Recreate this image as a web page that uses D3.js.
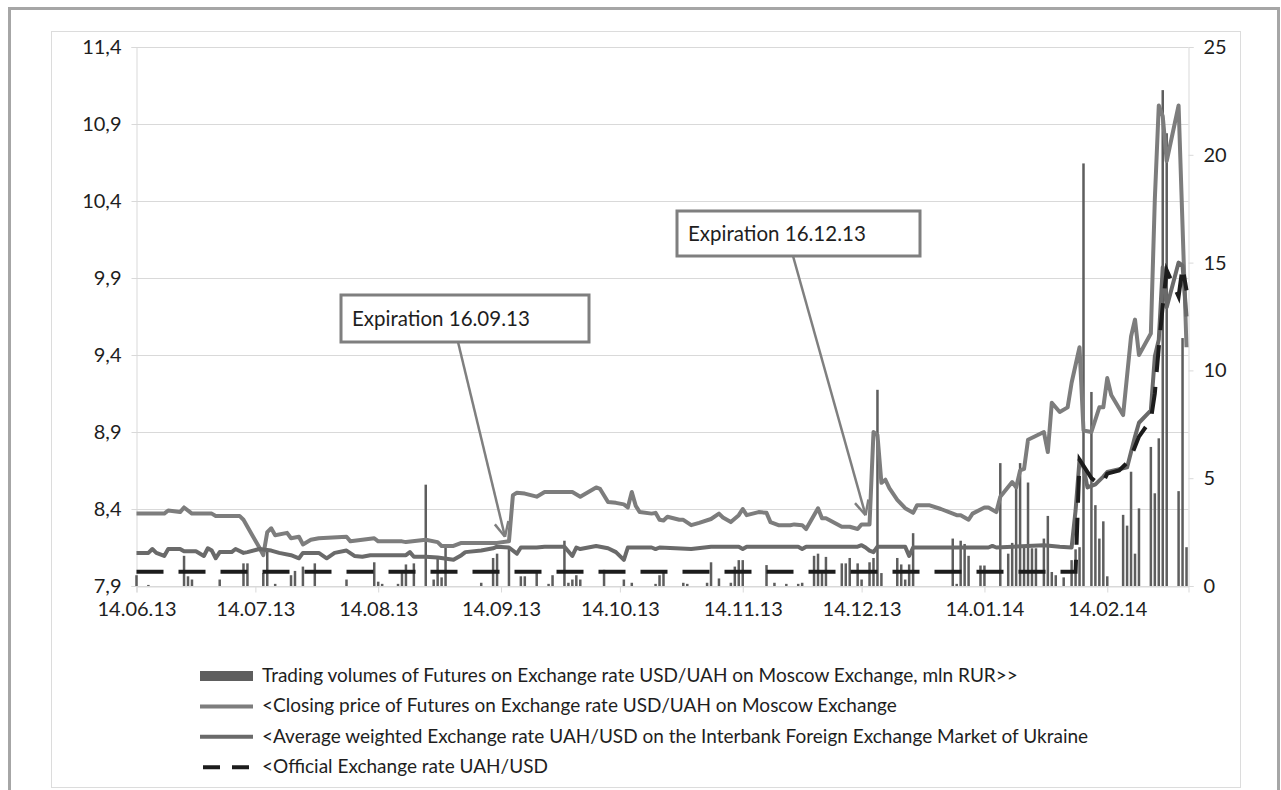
<!DOCTYPE html>
<html>
<head>
<meta charset="utf-8">
<script src="https://cdn.jsdelivr.net/npm/d3@7"></script>
<style>
  body { margin: 0; background: #fff; }
  svg text { font-family: Lato, "Open Sans", sans-serif; fill: #1e1e1e; }
</style>
</head>
<body>
<div id="chart"></div>
<script>
// tick labels
var xTickLabels = ["14.06.13", "14.07.13", "14.08.13", "14.09.13", "14.10.13",
                   "14.11.13", "14.12.13", "14.01.14", "14.02.14"];
var leftTicks = [7.9, 8.4, 8.9, 9.4, 9.9, 10.4, 10.9, 11.4];
var rightTicks = [0, 5, 10, 15, 20, 25];

var seriesNames = [
  "Trading volumes of Futures on Exchange rate USD/UAH on Moscow Exchange, mln RUR>>",
  "<Closing price of Futures on Exchange rate USD/UAH on Moscow Exchange",
  "<Average weighted Exchange rate UAH/USD on the Interbank Foreign Exchange Market of Ukraine",
  "<Official Exchange rate UAH/USD"
];

var notes = [
  { text: "Expiration 16.09.13", date: "2013-09-15", value: 8.22 },
  { text: "Expiration 16.12.13", date: "2013-12-15", value: 8.36 }
];

// trading volumes, mln RUR (right axis)
var volumes = [
  ["2013-06-14", 0.5], ["2013-06-17", 0.05], ["2013-06-26", 1.4], ["2013-06-27", 0.45],
  ["2013-06-28", 0.3], ["2013-07-05", 0.3], ["2013-07-11", 1.05], ["2013-07-12", 1.05],
  ["2013-07-16", 0.6], ["2013-07-17", 1.6], ["2013-07-19", 0.1], ["2013-07-23", 0.5],
  ["2013-07-24", 0.7], ["2013-07-26", 0.9], ["2013-07-29", 1.05], ["2013-08-06", 0.3],
  ["2013-08-13", 1.1], ["2013-08-14", 0.2], ["2013-08-15", 0.1], ["2013-08-19", 0.1],
  ["2013-08-20", 0.6], ["2013-08-21", 1.0], ["2013-08-23", 1.05], ["2013-08-26", 4.7],
  ["2013-08-28", 0.3], ["2013-08-29", 1.35], ["2013-08-30", 0.4], ["2013-08-31", 1.9],
  ["2013-09-09", 0.15], ["2013-09-12", 1.3], ["2013-09-13", 1.5], ["2013-09-16", 1.8],
  ["2013-09-19", 0.45], ["2013-09-20", 0.45], ["2013-09-23", 0.6], ["2013-09-26", 0.1],
  ["2013-09-27", 0.5], ["2013-09-30", 2.1], ["2013-10-01", 0.15], ["2013-10-02", 0.3],
  ["2013-10-03", 0.5], ["2013-10-04", 0.3], ["2013-10-10", 0.75], ["2013-10-15", 0.3],
  ["2013-10-17", 0.15], ["2013-10-23", 0.1], ["2013-10-24", 0.5], ["2013-10-25", 0.65],
  ["2013-10-30", 0.15], ["2013-10-31", 0.1], ["2013-11-05", 0.15], ["2013-11-06", 1.1],
  ["2013-11-08", 0.35], ["2013-11-11", 0.15], ["2013-11-12", 0.9], ["2013-11-13", 1.2],
  ["2013-11-14", 1.2], ["2013-11-20", 0.97], ["2013-11-22", 0.15], ["2013-11-25", 0.1],
  ["2013-11-28", 0.1], ["2013-11-29", 0.15], ["2013-12-02", 1.4], ["2013-12-03", 1.5],
  ["2013-12-04", 0.6], ["2013-12-05", 1.35], ["2013-12-09", 1.05], ["2013-12-10", 1.05],
  ["2013-12-11", 1.3], ["2013-12-13", 1.05], ["2013-12-14", 0.3], ["2013-12-16", 1.1],
  ["2013-12-17", 1.3], ["2013-12-18", 9.1], ["2013-12-19", 0.6], ["2013-12-23", 1.3],
  ["2013-12-24", 1.0], ["2013-12-25", 0.3], ["2013-12-26", 1.0], ["2013-12-27", 2.45],
  ["2014-01-06", 2.2], ["2014-01-07", 0.1], ["2014-01-08", 2.1], ["2014-01-09", 1.95],
  ["2014-01-10", 1.4], ["2014-01-13", 0.95], ["2014-01-14", 0.95], ["2014-01-18", 5.7],
  ["2014-01-20", 1.5], ["2014-01-21", 2.0], ["2014-01-22", 4.6], ["2014-01-23", 5.7],
  ["2014-01-24", 1.9], ["2014-01-25", 4.8], ["2014-01-26", 1.75], ["2014-01-27", 1.75],
  ["2014-01-29", 2.2], ["2014-01-30", 3.25], ["2014-01-31", 0.65], ["2014-02-01", 0.5],
  ["2014-02-03", 0.4], ["2014-02-05", 1.2], ["2014-02-06", 1.7], ["2014-02-07", 1.8],
  ["2014-02-08", 19.6], ["2014-02-10", 9.0], ["2014-02-11", 3.75], ["2014-02-12", 2.2],
  ["2014-02-13", 3.0], ["2014-02-14", 0.45], ["2014-02-18", 3.3], ["2014-02-19", 2.8],
  ["2014-02-20", 5.3], ["2014-02-21", 1.5], ["2014-02-22", 3.6], ["2014-02-25", 6.45],
  ["2014-02-26", 4.3], ["2014-02-27", 6.85], ["2014-02-28", 23.0], ["2014-03-01", 21.0],
  ["2014-03-04", 4.4], ["2014-03-05", 11.5], ["2014-03-06", 1.8]
];

// closing price of futures (left axis)
var closingPrice = [
  ["2013-06-14", 8.37], ["2013-06-21", 8.37], ["2013-06-22", 8.39], ["2013-06-25", 8.38],
  ["2013-06-26", 8.41], ["2013-06-28", 8.37], ["2013-07-03", 8.37], ["2013-07-04", 8.355],
  ["2013-07-10", 8.355], ["2013-07-11", 8.33], ["2013-07-13", 8.24], ["2013-07-15", 8.15],
  ["2013-07-16", 8.10], ["2013-07-17", 8.25], ["2013-07-18", 8.275], ["2013-07-19", 8.23],
  ["2013-07-22", 8.245], ["2013-07-23", 8.21], ["2013-07-25", 8.22], ["2013-07-26", 8.17],
  ["2013-07-28", 8.20], ["2013-07-30", 8.21], ["2013-08-06", 8.22], ["2013-08-07", 8.19],
  ["2013-08-13", 8.21], ["2013-08-14", 8.19], ["2013-08-20", 8.19], ["2013-08-21", 8.185],
  ["2013-08-26", 8.20], ["2013-08-29", 8.185], ["2013-08-30", 8.16], ["2013-09-02", 8.16],
  ["2013-09-04", 8.18], ["2013-09-13", 8.18], ["2013-09-16", 8.19], ["2013-09-17", 8.49],
  ["2013-09-18", 8.505], ["2013-09-20", 8.50], ["2013-09-23", 8.48], ["2013-09-25", 8.51],
  ["2013-10-02", 8.51], ["2013-10-04", 8.48], ["2013-10-08", 8.54], ["2013-10-09", 8.53],
  ["2013-10-11", 8.445], ["2013-10-13", 8.44], ["2013-10-15", 8.43], ["2013-10-16", 8.41],
  ["2013-10-17", 8.51], ["2013-10-18", 8.42], ["2013-10-19", 8.38], ["2013-10-22", 8.37],
  ["2013-10-23", 8.375], ["2013-10-24", 8.33], ["2013-10-25", 8.325], ["2013-10-26", 8.35],
  ["2013-10-29", 8.33], ["2013-10-30", 8.33], ["2013-11-01", 8.295], ["2013-11-03", 8.31],
  ["2013-11-06", 8.335], ["2013-11-08", 8.37], ["2013-11-09", 8.345], ["2013-11-11", 8.315],
  ["2013-11-13", 8.36], ["2013-11-14", 8.40], ["2013-11-15", 8.36], ["2013-11-18", 8.38],
  ["2013-11-20", 8.375], ["2013-11-21", 8.315], ["2013-11-23", 8.295], ["2013-11-26", 8.295],
  ["2013-11-27", 8.30], ["2013-11-29", 8.295], ["2013-11-30", 8.27], ["2013-12-03", 8.405],
  ["2013-12-04", 8.34], ["2013-12-05", 8.34], ["2013-12-09", 8.285], ["2013-12-11", 8.285],
  ["2013-12-13", 8.27], ["2013-12-14", 8.30], ["2013-12-16", 8.30], ["2013-12-17", 8.90],
  ["2013-12-18", 8.88], ["2013-12-19", 8.57], ["2013-12-20", 8.59], ["2013-12-21", 8.535],
  ["2013-12-23", 8.46], ["2013-12-25", 8.405], ["2013-12-27", 8.375], ["2013-12-28", 8.425],
  ["2013-12-31", 8.425], ["2014-01-03", 8.40], ["2014-01-07", 8.36], ["2014-01-08", 8.36],
  ["2014-01-10", 8.33], ["2014-01-11", 8.37], ["2014-01-14", 8.41], ["2014-01-15", 8.41],
  ["2014-01-17", 8.38], ["2014-01-18", 8.48], ["2014-01-21", 8.575], ["2014-01-22", 8.54],
  ["2014-01-23", 8.65], ["2014-01-24", 8.66], ["2014-01-25", 8.85], ["2014-01-29", 8.90],
  ["2014-01-30", 8.77], ["2014-01-31", 9.09], ["2014-02-02", 9.03], ["2014-02-04", 9.06],
  ["2014-02-05", 9.22], ["2014-02-07", 9.45], ["2014-02-08", 8.91], ["2014-02-10", 8.90],
  ["2014-02-12", 9.06], ["2014-02-13", 9.06], ["2014-02-14", 9.25], ["2014-02-15", 9.14],
  ["2014-02-18", 9.01], ["2014-02-20", 9.52], ["2014-02-21", 9.63], ["2014-02-22", 9.40],
  ["2014-02-25", 9.54], ["2014-02-26", 10.41], ["2014-02-27", 11.02], ["2014-02-28", 10.95],
  ["2014-03-01", 10.66], ["2014-03-04", 11.02], ["2014-03-06", 9.45]
];

// average weighted interbank rate (left axis)
var averageRate = [
  ["2013-06-14", 8.115], ["2013-06-17", 8.115], ["2013-06-18", 8.14], ["2013-06-19", 8.115],
  ["2013-06-21", 8.095], ["2013-06-22", 8.14], ["2013-06-25", 8.14], ["2013-06-26", 8.125],
  ["2013-06-29", 8.125], ["2013-07-01", 8.095], ["2013-07-02", 8.145], ["2013-07-03", 8.13],
  ["2013-07-04", 8.08], ["2013-07-05", 8.12], ["2013-07-08", 8.12], ["2013-07-09", 8.14],
  ["2013-07-11", 8.115], ["2013-07-12", 8.12], ["2013-07-15", 8.14], ["2013-07-18", 8.13],
  ["2013-07-20", 8.115], ["2013-07-23", 8.10], ["2013-07-25", 8.08], ["2013-07-26", 8.115],
  ["2013-07-30", 8.115], ["2013-08-01", 8.08], ["2013-08-03", 8.115], ["2013-08-06", 8.13],
  ["2013-08-08", 8.095], ["2013-08-10", 8.09], ["2013-08-12", 8.10], ["2013-08-21", 8.10],
  ["2013-08-22", 8.12], ["2013-08-23", 8.09], ["2013-08-26", 8.09], ["2013-08-29", 8.085],
  ["2013-09-02", 8.07], ["2013-09-04", 8.10], ["2013-09-05", 8.12], ["2013-09-09", 8.13],
  ["2013-09-12", 8.145], ["2013-09-13", 8.155], ["2013-09-16", 8.15], ["2013-09-18", 8.11],
  ["2013-09-19", 8.15], ["2013-09-23", 8.15], ["2013-09-25", 8.155], ["2013-09-30", 8.155],
  ["2013-10-02", 8.095], ["2013-10-03", 8.15], ["2013-10-04", 8.14], ["2013-10-08", 8.16],
  ["2013-10-11", 8.145], ["2013-10-13", 8.12], ["2013-10-15", 8.07], ["2013-10-16", 8.15],
  ["2013-10-22", 8.15], ["2013-10-23", 8.14], ["2013-10-24", 8.15], ["2013-11-01", 8.14],
  ["2013-11-06", 8.155], ["2013-11-13", 8.155], ["2013-11-14", 8.14], ["2013-11-15", 8.155],
  ["2013-11-28", 8.155], ["2013-11-29", 8.14], ["2013-11-30", 8.155], ["2013-12-13", 8.155],
  ["2013-12-14", 8.165], ["2013-12-15", 8.15], ["2013-12-16", 8.13], ["2013-12-17", 8.12],
  ["2013-12-18", 8.155], ["2013-12-25", 8.155], ["2013-12-26", 8.095], ["2013-12-27", 8.15],
  ["2014-01-15", 8.15], ["2014-01-16", 8.16], ["2014-01-17", 8.15], ["2014-01-29", 8.165],
  ["2014-02-02", 8.155], ["2014-02-05", 8.15], ["2014-02-06", 8.39], ["2014-02-07", 8.72],
  ["2014-02-08", 8.67], ["2014-02-09", 8.54], ["2014-02-11", 8.56], ["2014-02-13", 8.61],
  ["2014-02-14", 8.64], ["2014-02-19", 8.67], ["2014-02-21", 8.87], ["2014-02-22", 8.96],
  ["2014-02-25", 9.04], ["2014-02-26", 9.39], ["2014-02-27", 9.50], ["2014-02-28", 9.97],
  ["2014-03-01", 9.71], ["2014-03-04", 10.0], ["2014-03-05", 9.98], ["2014-03-06", 9.65]
];

// official NBU rate (left axis)
var officialRate = [
  ["2013-06-14", 7.993], ["2014-02-06", 7.993], ["2014-02-07", 8.72], ["2014-02-10", 8.60],
  ["2014-02-12", 8.56], ["2014-02-13", 8.575], ["2014-02-14", 8.63], ["2014-02-17", 8.65],
  ["2014-02-19", 8.70], ["2014-02-20", 8.74], ["2014-02-22", 8.87], ["2014-02-25", 8.98],
  ["2014-02-26", 9.15], ["2014-02-27", 9.45], ["2014-02-28", 9.72], ["2014-03-01", 9.95],
  ["2014-03-04", 9.78], ["2014-03-05", 9.97], ["2014-03-06", 9.82]
];

var width = 1281, height = 790;
var plot = {left: 136.5, right: 1188.5, top: 47, bottom: 586};

var parseDay = d3.timeParse("%Y-%m-%d");
var parseTick = d3.timeParse("%d.%m.%y");
var comma = d3.formatLocale({decimal: ",", thousands: " ", grouping: [3], currency: ["", ""]});

var svg = d3.select("#chart").append("svg")
    .attr("width", width)
    .attr("height", height);

// frames
svg.append("rect")
    .attr("x", 9.5).attr("y", 8.5)
    .attr("width", 1269).attr("height", 800)
    .attr("fill", "none").attr("stroke", "#a6a6a6").attr("stroke-width", 3);
svg.append("rect")
    .attr("x", 51.5).attr("y", 31.5)
    .attr("width", 1189).attr("height", 756)
    .attr("fill", "none").attr("stroke", "#dcdcdc").attr("stroke-width", 1);

// scales
var x = d3.scaleTime()
    .domain([parseDay("2013-06-14"), new Date(2014, 2, 6, 12)])
    .range([plot.left, plot.right]);
var y = d3.scaleLinear()
    .domain([7.9, 11.4])
    .range([plot.bottom, plot.top]);
var y2 = d3.scaleLinear()
    .domain([0, 25])
    .range([plot.bottom, plot.top]);

// gridlines
svg.append("g")
    .selectAll("line")
    .data(leftTicks)
  .enter().append("line")
    .attr("x1", plot.left - 5).attr("x2", plot.right)
    .attr("y1", function(d) { return Math.round(y(d)) + 0.5; })
    .attr("y2", function(d) { return Math.round(y(d)) + 0.5; })
    .attr("stroke", "#d9d9d9");

// axes
function styleAxis(g) {
  g.select(".domain").attr("stroke", "#d9d9d9");
  g.selectAll(".tick line").attr("stroke", "#d9d9d9");
  g.selectAll(".tick text").attr("font-size", "20px").attr("fill", "#1e1e1e");
}

svg.append("g")
    .attr("transform", "translate(" + plot.left + ",0)")
    .call(d3.axisLeft(y).tickValues(leftTicks).tickSize(5).tickPadding(10)
      .tickFormat(comma.format(".1f")))
    .call(styleAxis)
    .call(function(g) { g.selectAll(".tick line").remove(); });

svg.append("g")
    .attr("transform", "translate(" + plot.right + ",0)")
    .call(d3.axisRight(y2).tickValues(rightTicks).tickSize(5).tickPadding(10))
    .call(styleAxis)
    .call(function(g) { g.selectAll(".tick text").attr("text-anchor", "start"); });

svg.append("g")
    .attr("transform", "translate(0," + (plot.bottom + 0.5) + ")")
    .call(d3.axisBottom(x).tickValues(xTickLabels.map(parseTick)).tickSize(6).tickPadding(9)
      .tickFormat(d3.timeFormat("%d.%m.%y")))
    .call(styleAxis);

// volume bars
svg.append("g")
    .selectAll("rect")
    .data(volumes)
  .enter().append("rect")
    .attr("x", function(d) { return x(parseDay(d[0])) - 1.25; })
    .attr("width", 2.5)
    .attr("y", function(d) { return y2(d[1]); })
    .attr("height", function(d) { return y2(0) - y2(d[1]); })
    .attr("fill", "#5e5e5e");

var line = d3.line()
    .x(function(d) { return x(parseDay(d[0])); })
    .y(function(d) { return y(d[1]); });

svg.append("path")
    .datum(closingPrice)
    .attr("d", line)
    .attr("fill", "none")
    .attr("stroke", "#7d7d7d")
    .attr("stroke-width", 4)
    .attr("stroke-linejoin", "round");

svg.append("path")
    .datum(averageRate)
    .attr("d", line)
    .attr("fill", "none")
    .attr("stroke", "#6a6a6a")
    .attr("stroke-width", 4)
    .attr("stroke-linejoin", "round");

svg.append("path")
    .datum(officialRate)
    .attr("d", line)
    .attr("fill", "none")
    .attr("stroke", "#1c1c1c")
    .attr("stroke-width", 4)
    .attr("stroke-dasharray", "27,15");

// callouts
var boxes = [
  {x: 341, y: 295, w: 248, h: 47, from: 458},
  {x: 677, y: 211, w: 243, h: 45, from: 793}
];
notes.forEach(function(n, i) {
  var b = boxes[i];
  var tx = x(parseDay(n.date)), ty = y(n.value);
  var sx = b.from, sy = b.y + b.h;
  svg.append("line")
      .attr("x1", sx).attr("y1", sy).attr("x2", tx).attr("y2", ty)
      .attr("stroke", "#7f7f7f").attr("stroke-width", 2.5);
  // open arrow head
  var ang = Math.atan2(ty - sy, tx - sx);
  [-0.45, 0.45].forEach(function(da) {
    svg.append("line")
        .attr("x1", tx).attr("y1", ty)
        .attr("x2", tx - 16 * Math.cos(ang + da))
        .attr("y2", ty - 16 * Math.sin(ang + da))
        .attr("stroke", "#7f7f7f").attr("stroke-width", 2.5);
  });
  svg.append("rect")
      .attr("x", b.x).attr("y", b.y).attr("width", b.w).attr("height", b.h)
      .attr("fill", "#fff").attr("stroke", "#7f7f7f").attr("stroke-width", 3);
  svg.append("text")
      .attr("x", b.x + 11).attr("y", b.y + b.h / 2 + 7)
      .attr("font-size", "20.5px")
      .text(n.text);
});

// legend
var legend = svg.append("g").attr("transform", "translate(200,676)");
var rowH = 30.4;
legend.append("rect")
    .attr("x", 0).attr("y", -5).attr("width", 53).attr("height", 10)
    .attr("fill", "#5e5e5e");
legend.append("line")
    .attr("x1", 0).attr("x2", 53).attr("y1", rowH).attr("y2", rowH)
    .attr("stroke", "#7d7d7d").attr("stroke-width", 4);
legend.append("line")
    .attr("x1", 0).attr("x2", 53).attr("y1", rowH * 2).attr("y2", rowH * 2)
    .attr("stroke", "#6a6a6a").attr("stroke-width", 4);
legend.append("line")
    .attr("x1", 3).attr("x2", 50).attr("y1", rowH * 3).attr("y2", rowH * 3)
    .attr("stroke", "#1c1c1c").attr("stroke-width", 4)
    .attr("stroke-dasharray", "17,12");
legend.selectAll("text.lbl")
    .data(seriesNames)
  .enter().append("text")
    .attr("class", "lbl")
    .attr("x", 62)
    .attr("y", function(d, i) { return i * rowH + 6; })
    .attr("font-size", "19px")
    .text(function(d) { return d; });
</script>
</body>
</html>
